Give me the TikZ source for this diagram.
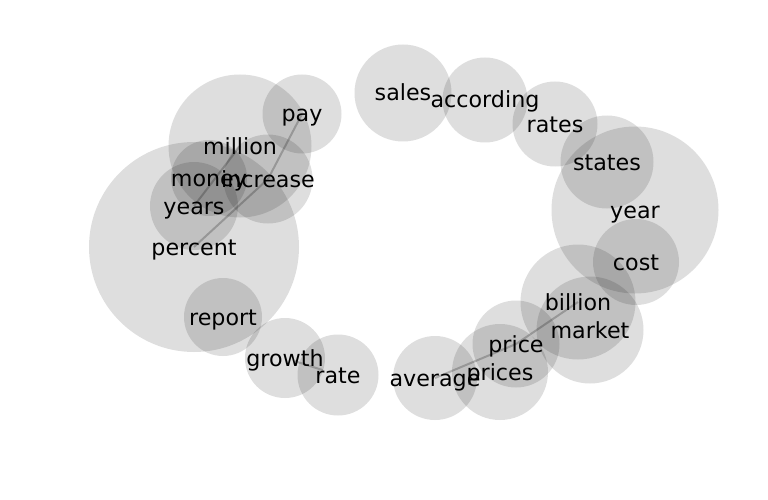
\documentclass[tikz,border=0pt]{standalone}
\usepackage{fontspec}
\setmainfont{DejaVu Sans}
\usepackage{tikz}

\begin{document}
\begin{tikzpicture}[x=1pt,y=-1pt,
 blob/.style={circle,fill=black,fill opacity=0.13,draw=none,inner sep=0pt},
 word/.style={font=\fontsize{22.2}{26}\selectfont,inner sep=0pt,text height=16pt,text depth=0pt},
 link/.style={draw=black,draw opacity=0.22,line width=2pt}]
\useasboundingbox (0,0) rectangle (768,500);
% circles
\node[blob,minimum size=210pt] (percent) at (194,247) {};
\node[blob,minimum size=143pt] (million) at (240,146) {};
\node[blob,minimum size=88pt] (years) at (194,206) {};
\node[blob,minimum size=76pt] (money) at (209,178) {};
\node[blob,minimum size=89pt] (increase) at (268,179) {};
\node[blob,minimum size=79pt] (pay) at (302,114) {};
\node[blob,minimum size=78pt] (report) at (223,317) {};
\node[blob,minimum size=80pt] (growth) at (285,358) {};
\node[blob,minimum size=81pt] (rate) at (338,375) {};
\node[blob,minimum size=97pt] (sales) at (403,93) {};
\node[blob,minimum size=85pt] (according) at (485,100) {};
\node[blob,minimum size=85pt] (rates) at (555,124) {};
\node[blob,minimum size=93pt] (states) at (607,162) {};
\node[blob,minimum size=167pt] (year) at (635,210) {};
\node[blob,minimum size=86pt] (cost) at (636,262) {};
\node[blob,minimum size=115pt] (billion) at (578,302) {};
\node[blob,minimum size=107pt] (market) at (590,330) {};
\node[blob,minimum size=87pt] (price) at (516,344) {};
\node[blob,minimum size=96pt] (prices) at (500,372) {};
\node[blob,minimum size=84pt] (average) at (435,378) {};
% edges
\draw[link] (years.center) -- (million.center);
\draw[link] (percent.center) -- (increase.center);
\draw[link] (increase.center) -- (pay.center);
\draw[link,shorten <=10pt,shorten >=16pt] (growth.center) -- (rate.center);
\draw[link] (average.center) -- (price.center);
\draw[link] (price.center) -- (billion.center);
% words
\node[word] (percent-w) at (percent) {percent};
\node[word] (million-w) at (million) {million};
\node[word] (years-w) at (years) {years};
\node[word] (money-w) at (money) {money};
\node[word] (increase-w) at (increase) {increase};
\node[word] (pay-w) at (pay) {pay};
\node[word] (report-w) at (report) {report};
\node[word] (growth-w) at (growth) {growth};
\node[word] (rate-w) at (rate) {rate};
\node[word] (sales-w) at (sales) {sales};
\node[word] (according-w) at (according) {according};
\node[word] (rates-w) at (rates) {rates};
\node[word] (states-w) at (states) {states};
\node[word] (year-w) at (year) {year};
\node[word] (cost-w) at (cost) {cost};
\node[word] (billion-w) at (billion) {billion};
\node[word] (market-w) at (market) {market};
\node[word] (price-w) at (price) {price};
\node[word] (prices-w) at (prices) {prices};
\node[word] (average-w) at (average) {average};
\end{tikzpicture}
\end{document}
